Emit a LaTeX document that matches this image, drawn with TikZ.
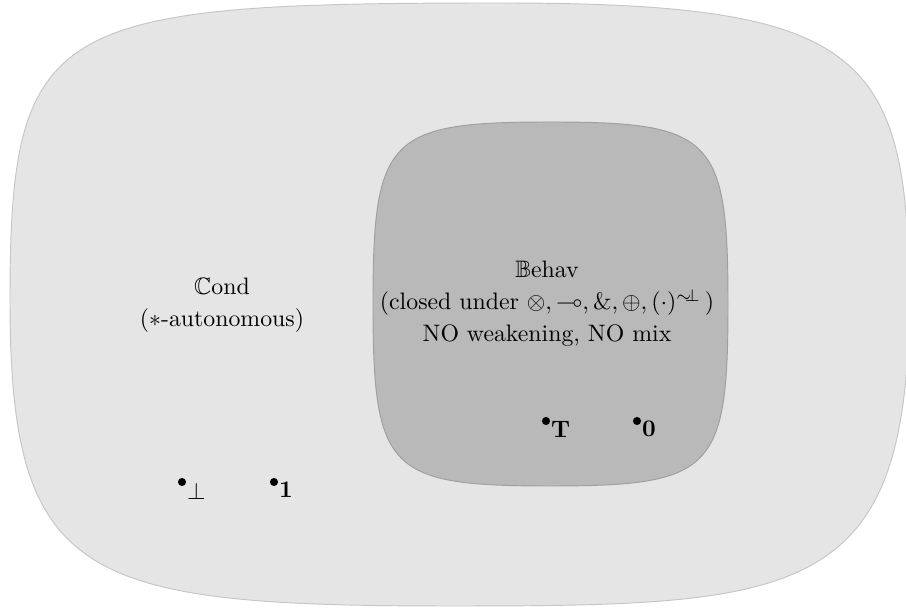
\documentclass[tikz,border=0pt]{standalone}
\usepackage{amsmath,amssymb}
\usepackage{xcolor}
\usepackage{tikz}
\usetikzlibrary{positioning,calc}

\tikzset{
    region/.style={draw=gray!45, line width=0.4pt},
    pt/.style={circle, fill=black, inner sep=0pt, minimum size=3.4pt},
    lab/.style={anchor=north west, inner sep=0pt, xshift=2pt}
}

\begin{document}
\begin{tikzpicture}[x=0.42pt, y=0.42pt]
    \useasboundingbox (0,0) rectangle (906,610);

    % Cond (outer region)
    \draw[region, fill=gray!20] (10,310) .. controls (10,590) and (50,607) .. (500,607)
        .. controls (860,607) and (909,560) .. (909,310)
        .. controls (909,10) and (800,4) .. (450,4)
        .. controls (80,4) and (10,30) .. (10,310) -- cycle;

    % Behav (inner region)
    \draw[region, draw=gray!75, fill=gray!55] (373,306) .. controls (373,473) and (388,488) .. (550,488)
        .. controls (713,488) and (728,473) .. (728,306)
        .. controls (728,139) and (713,124) .. (550,124)
        .. controls (388,124) and (373,139) .. (373,306) -- cycle;

    \node[align=center] (cond) at (222,305) {$\mathbb{C}$ond\\[1.5pt] ($*$-autonomous)};
    \node[align=center] (behav) at (547,306) {$\mathbb{B}$ehav\\[1.5pt]
        (closed under $\otimes, \multimap, \&, \oplus, (\cdot)^{\sim\mkern-6mu\bot}\,$)\\[1.5pt]
        NO weakening, NO mix};

    % units
    \node[pt] (bot) at (182,128) {};
    \node[lab] (botlab) at (bot.center) {$\bot$};
    \node[pt] (one) at (274,128) {};
    \node[lab] (onelab) at (one.center) {$\mathbf{1}$};
    \node[pt] (top) at (546,189) {};
    \node[lab] (toplab) at (top.center) {$\mathbf{T}$};
    \node[pt] (zero) at (637,189) {};
    \node[lab] (zerolab) at (zero.center) {$\mathbf{0}$};
\end{tikzpicture}
\end{document}
